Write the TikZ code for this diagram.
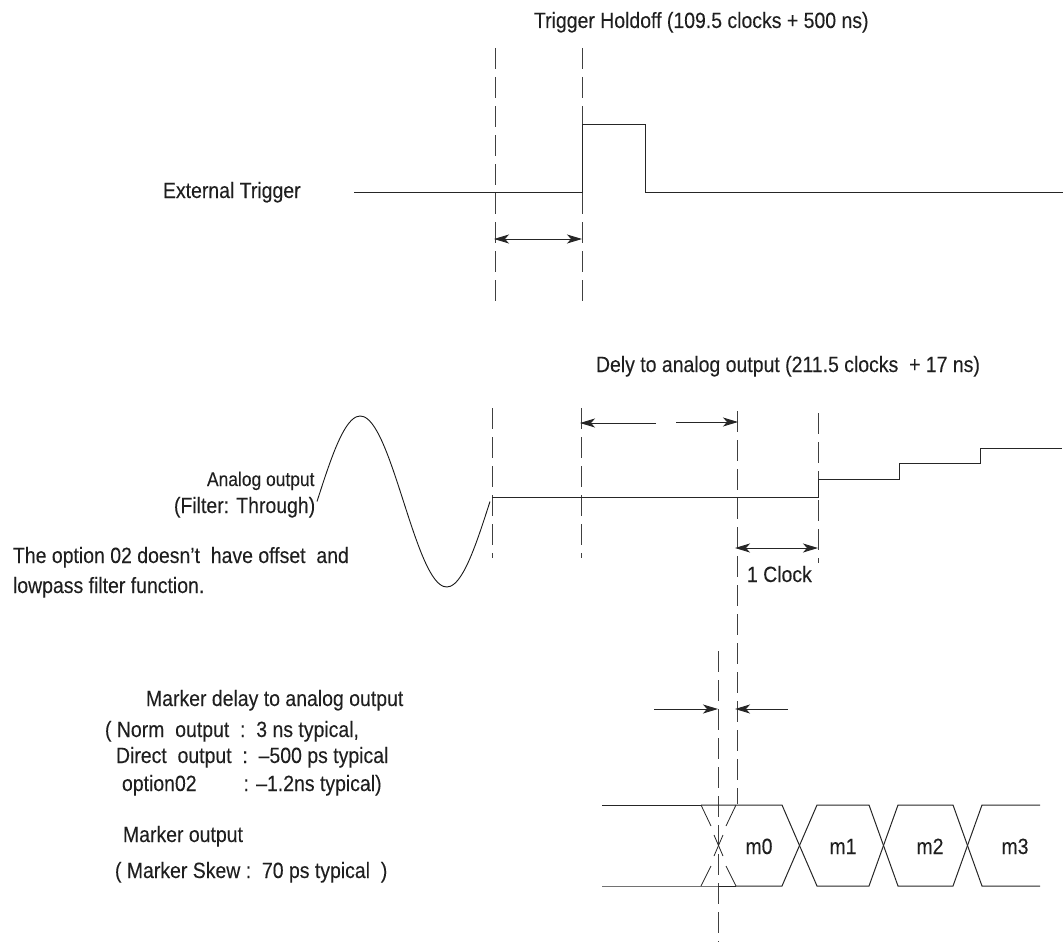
\documentclass[tikz,border=0pt]{standalone}
\usepackage{fontspec}
\setmainfont[FakeStretch=0.88,FakeBold=0.12]{Liberation Sans}
\usetikzlibrary{arrows.meta}
\tikzset{
  wave/.style={line width=1pt,draw=black!85},
  guide/.style={line width=0.85pt,draw=black!75,dash pattern=on 21pt off 8pt},
  dim/.style={line width=0.9pt,draw=black!85,-{Stealth[length=15pt,width=9pt,inset=4pt]}},
  dimboth/.style={line width=0.9pt,draw=black!85,{Stealth[length=15pt,width=9pt,inset=4pt]}-{Stealth[length=15pt,width=9pt,inset=4pt]}},
  lbl/.style={anchor=base west,inner sep=0pt,outer sep=0pt,text=black!88,font=\fontsize{22.1}{24}\selectfont},
  lblsmall/.style={lbl,font=\fontsize{19.8}{22}\selectfont},
  sig/.style={anchor=base,inner sep=0pt,text=black!88,font=\fontsize{22.1}{24}\selectfont},
  xdash/.style={line width=0.8pt,draw=black!85}
}
\begin{document}
\begin{tikzpicture}[x=1pt,y=-1pt]
\useasboundingbox (0,0) rectangle (1063,942);
% --- guide coordinates
\coordinate (a1t) at (495,48);  \coordinate (a1b) at (495,304);
\coordinate (a2t) at (582,48);  \coordinate (a2b) at (582,304);
\coordinate (b1t) at (492,408); \coordinate (b1b) at (492,558);
\coordinate (b2t) at (581,408); \coordinate (b2b) at (581,558);
\coordinate (b3t) at (737,411); \coordinate (b3b) at (737,804);
\coordinate (b4t) at (818,413); \coordinate (b4b) at (818,563);
\coordinate (c1t) at (718,651); \coordinate (c1b) at (718,942);
\draw[guide] (a1t) -- (a1b);
\draw[guide] (a2t) -- (a2b);
\draw[guide] (b1t) -- (b1b);
\draw[guide] (b2t) -- (b2b);
\draw[guide] (b3t) -- (b3b);
\draw[guide] (b4t) -- (b4b);
\draw[guide] (c1t) -- (c1b);
% --- external trigger
\draw[wave] (354,192) -- (582,192) -- (582,124.5) -- (645,124.5) -- (645,192) -- (1063,192);
% --- analog output
\draw[line width=0.9pt,draw=black!90] plot[smooth,samples=49,domain=0:360] ({317+0.48056*\x},{501.5-85.5*sin(\x)});
\draw[wave] (492,497) -- (818,497) -- (818,479) -- (899,479) -- (899,463) -- (980,463) -- (980,448) -- (1062,448);
% --- dimension arrows
\coordinate (d1l) at (494,239); \coordinate (d1r) at (582,239);
\draw[dimboth] (d1l) -- (d1r);
\coordinate (d2l) at (580,423); \coordinate (d2m) at (656,423);
\draw[dim] (d2m) -- (d2l);
\coordinate (d3m) at (676,422); \coordinate (d3r) at (738,422);
\draw[dim] (d3m) -- (d3r);
\coordinate (d4l) at (735,548); \coordinate (d4r) at (818,548);
\draw[dimboth] (d4l) -- (d4r);
\coordinate (d5a) at (654,709); \coordinate (d5b) at (718,709);
\draw[dim] (d5a) -- (d5b);
\coordinate (d6a) at (788,709); \coordinate (d6b) at (735,709);
\draw[dim] (d6a) -- (d6b);
% --- marker eye pattern
\draw[wave] (602,805) -- (701,805);
\draw[wave] (602,886) -- (701,886) -- (736,886);
\draw[wave] (701,805) -- (736,805) -- (782,805) -- (817,886) -- (869,886) -- (898,805) -- (953,805) -- (982,886) -- (1040,886);
\draw[wave] (736,886) -- (782,886) -- (817,805) -- (869,805) -- (898,886) -- (953,886) -- (982,805) -- (1040,805);
\draw[xdash] (701,805) -- (711,826) (714,835) -- (723,856) (726,866) -- (736,886);
\draw[xdash] (736,805) -- (726,826) (723,835) -- (714,856) (711,866) -- (701,886);
% --- labels
\node[lbl] (t1) at (534,28) {Trigger Holdoff (109.5 clocks + 500 ns)};
\node[lbl] (t2) at (163,198) {External Trigger};
\node[lbl] (t3) at (596,372) {Dely to analog output (211.5 clocks\ \ + 17 ns)};
\node[lblsmall] (t4) at (207,486) {Analog output};
\node[lbl] (t5) at (174,513) {(Filter: Through)};
\node[lbl] (t6) at (13,563) {The option 02 doesn’t\ \ have offset\ \ and};
\node[lbl] (t7) at (13,593) {lowpass filter function.};
\node[lbl] (t8) at (747,582) {1 Clock};
\node[lbl] (t9) at (146,706) {Marker delay to analog output};
\node[lbl] (t10) at (105,737) {( Norm\ \ output\ \ :\ \ 3 ns typical,};
\node[lbl] (t11) at (116,763) {Direct\ \ output\ \ :\ \ –500 ps typical};
\node[lbl] (t12) at (122,791) {option02\hspace{47pt}: –1.2ns typical)};
\node[lbl] (t13) at (123,842) {Marker output};
\node[lbl] (t14) at (115,878) {( Marker Skew :\ \ 70 ps typical\ \ )};
\node[sig] (m0) at (759,854) {m0};
\node[sig] (m1) at (843,854) {m1};
\node[sig] (m2) at (930,854) {m2};
\node[sig] (m3) at (1015,854) {m3};
\end{tikzpicture}
\end{document}
